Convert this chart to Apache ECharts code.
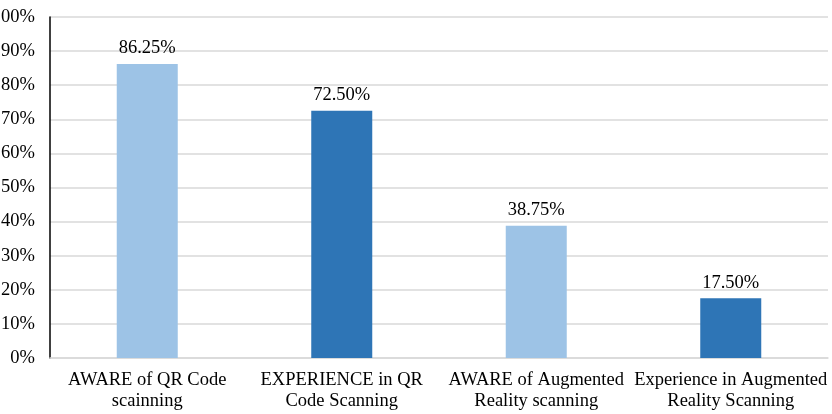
<!DOCTYPE html>
<html>
<head>
<meta charset="utf-8">
<script src="https://cdn.jsdelivr.net/npm/echarts@6/dist/echarts.min.js"></script>
<style>
  html, body { margin: 0; padding: 0; background: #fff; }
  #chart { width: 832px; height: 414px; }
</style>
</head>
<body>
<div id="chart"></div>
<script>
const categories = [
  'AWARE of QR Code\nscainning',
  'EXPERIENCE in QR\nCode Scanning',
  'AWARE of Augmented\nReality scanning',
  'Experience in Augmented\nReality Scanning'
];
const values = [86.25, 72.50, 38.75, 17.50];
const barColors = ['#9DC3E6', '#2E75B6', '#9DC3E6', '#2E75B6'];

const font = '"Liberation Serif", "Times New Roman", serif';

const chart = echarts.init(document.getElementById('chart'));
chart.setOption({
  animation: false,
  grid: { left: 50, right: 4, top: 17, bottom: 56, containLabel: false, outerBoundsMode: 'none' },
  xAxis: {
    type: 'category',
    data: categories,
    axisLine: { lineStyle: { color: '#D9D9D9', width: 1.5 } },
    axisTick: { show: false },
    axisLabel: {
      color: '#000', fontFamily: font, fontSize: 18.5, lineHeight: 21,
      margin: 12, interval: 0
    }
  },
  yAxis: {
    type: 'value',
    min: 0, max: 100, interval: 10,
    axisLine: { show: true, lineStyle: { color: '#000', width: 1.5 } },
    axisTick: { show: false },
    splitLine: { lineStyle: { color: '#D9D9D9', width: 1.5 } },
    axisLabel: {
      color: '#000', fontFamily: font, fontSize: 18.5, margin: 15,
      formatter: v => v + '%'
    }
  },
  series: [{
    type: 'bar',
    barWidth: 61,
    data: values.map((v, i) => ({ value: v, itemStyle: { color: barColors[i] } })),
    label: {
      show: true, position: 'top', distance: 6,
      color: '#000', fontFamily: font, fontSize: 18.5,
      formatter: p => p.value.toFixed(2) + '%'
    }
  }]
});
</script>
</body>
</html>
